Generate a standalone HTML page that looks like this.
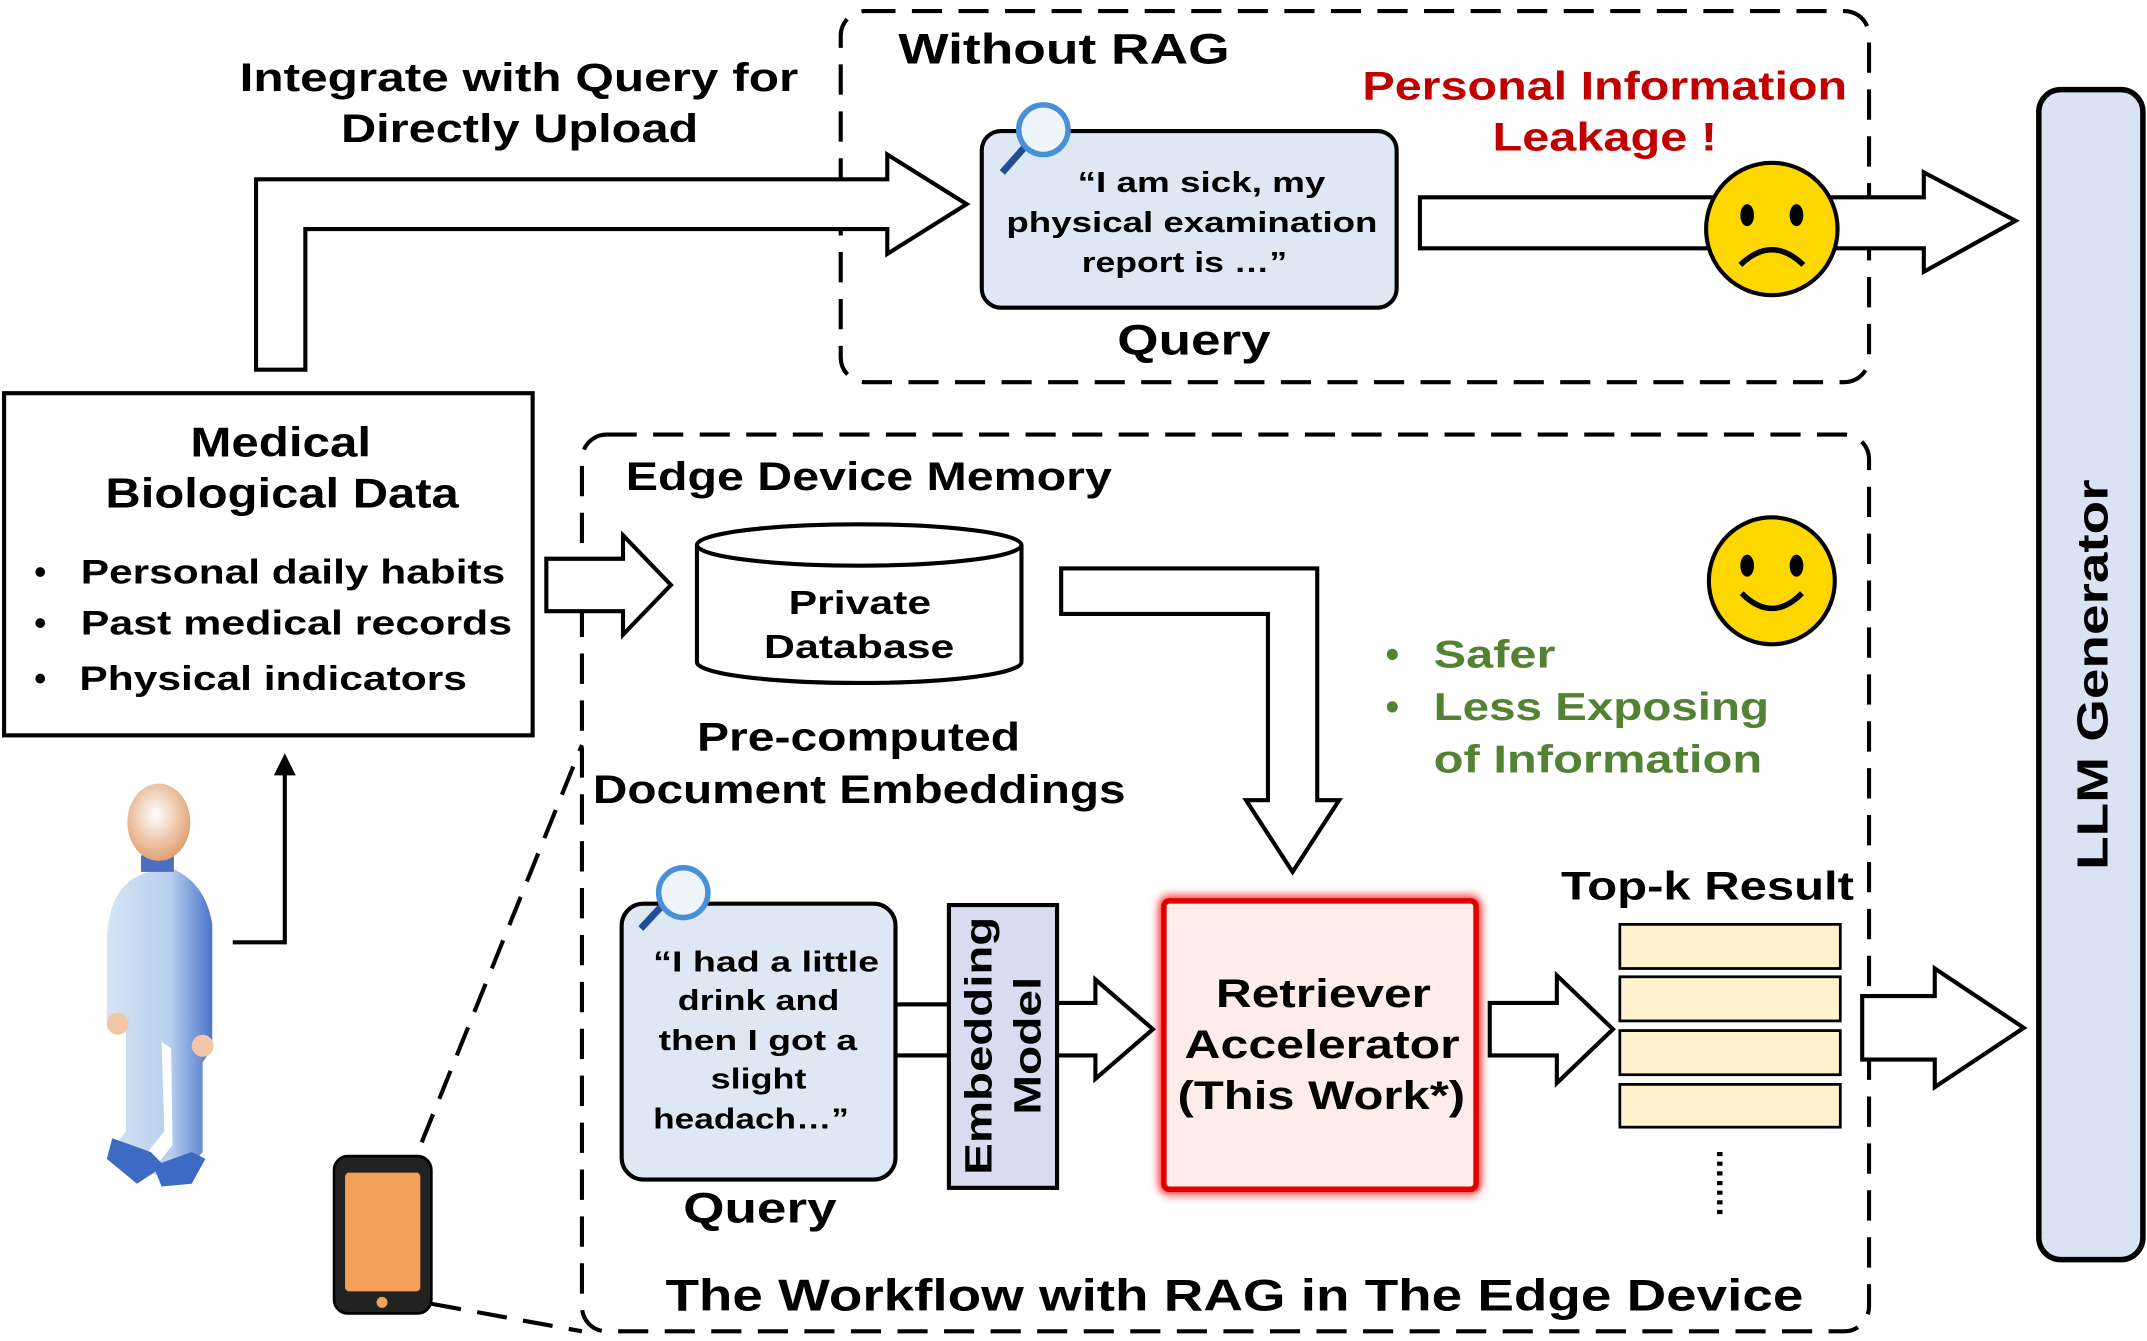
<!DOCTYPE html>
<html><head><meta charset="utf-8"><style>
html,body{margin:0;padding:0;background:#fff;}
svg{display:block;}
text{font-family:"Liberation Sans",sans-serif;font-weight:bold;}
</style></head><body>
<svg width="2147" height="1341" viewBox="0 0 1568 972" preserveAspectRatio="none" xmlns="http://www.w3.org/2000/svg">
<defs>
<radialGradient id="head" cx="0.45" cy="0.4" r="0.6"><stop offset="0" stop-color="#fff"/><stop offset="1" stop-color="#e0a070"/></radialGradient>
<linearGradient id="body" x1="0" x2="1"><stop offset="0" stop-color="#d6e4f5"/><stop offset="0.6" stop-color="#b8cfee"/><stop offset="1" stop-color="#4a74c8"/></linearGradient>
<filter id="glow" x="-10%" y="-10%" width="120%" height="120%"><feGaussianBlur stdDeviation="3"/></filter>
</defs>
<rect x="614" y="8" width="751" height="269" rx="18" fill="none" stroke="#000" stroke-width="3" stroke-dasharray="22,12"/>
<rect x="425" y="315" width="940" height="650" rx="18" fill="none" stroke="#000" stroke-width="3" stroke-dasharray="22,12"/>
<rect x="1489" y="65" width="76" height="848" rx="16" fill="#dae3f3" stroke="#000" stroke-width="4"/>
<text transform="translate(1539,489) rotate(-90)" text-anchor="middle" font-size="32" textLength="283" lengthAdjust="spacingAndGlyphs">LLM Generator</text>
<rect x="3" y="285" width="386" height="248" fill="#fff" stroke="#000" stroke-width="3"/>
<text x="205" y="331" text-anchor="middle" font-size="30" textLength="132" lengthAdjust="spacingAndGlyphs">Medical</text>
<text x="206" y="368" text-anchor="middle" font-size="30" textLength="258" lengthAdjust="spacingAndGlyphs">Biological Data</text>
<g font-size="25">
<text x="25" y="423">•</text><text x="59" y="423" textLength="310" lengthAdjust="spacingAndGlyphs">Personal daily habits</text>
<text x="25" y="460">•</text><text x="59" y="460" textLength="315" lengthAdjust="spacingAndGlyphs">Past medical records</text>
<text x="25" y="500">•</text><text x="58" y="500" textLength="283" lengthAdjust="spacingAndGlyphs">Physical indicators</text>
</g>
<polygon points="187,268 187,130 648,130 648,112 706,148 648,184 648,166 223,166 223,268" fill="#fff" stroke="#000" stroke-width="3"/>
<text x="175" y="66" font-size="29" textLength="408" lengthAdjust="spacingAndGlyphs">Integrate with Query for</text>
<text x="249" y="103" font-size="29" textLength="261" lengthAdjust="spacingAndGlyphs">Directly Upload</text>
<text x="656" y="46" font-size="31" textLength="242" lengthAdjust="spacingAndGlyphs">Without RAG</text>
<rect x="717" y="95" width="303" height="128" rx="14" fill="#dee8f5" stroke="#000" stroke-width="3"/>
<text x="787" y="139" font-size="21" textLength="181" lengthAdjust="spacingAndGlyphs">“I am sick, my</text>
<text x="735" y="168" font-size="21" textLength="271" lengthAdjust="spacingAndGlyphs">physical examination</text>
<text x="790" y="197" font-size="21" textLength="150" lengthAdjust="spacingAndGlyphs">report is …”</text>
<text x="816" y="257" font-size="31" textLength="112" lengthAdjust="spacingAndGlyphs">Query</text>
<line x1="732" y1="125" x2="748" y2="107" stroke="#1f4e96" stroke-width="5"/>
<circle cx="762" cy="94" r="18" fill="#eef5fb" stroke="#4a90d9" stroke-width="4"/>
<polygon points="1037,143 1405,143 1405,125 1472,160 1405,197 1405,180 1037,180" fill="#fff" stroke="#000" stroke-width="3"/>
<text x="995" y="72" font-size="29" fill="#c00000" textLength="354" lengthAdjust="spacingAndGlyphs">Personal Information</text>
<text x="1090" y="109" font-size="29" fill="#c00000" textLength="164" lengthAdjust="spacingAndGlyphs">Leakage !</text>
<circle cx="1294" cy="166" r="48" fill="#ffd700" stroke="#000" stroke-width="3"/>
<ellipse cx="1276" cy="156" rx="5" ry="8"/><ellipse cx="1312" cy="156" rx="5" ry="8"/>
<path d="M1271,192 Q1294,170 1317,192" fill="none" stroke="#000" stroke-width="4"/>
<polygon points="399,405 455,405 455,388 490,424 455,460 455,443 399,443" fill="#fff" stroke="#000" stroke-width="3"/>
<text x="457" y="355" font-size="29" textLength="355" lengthAdjust="spacingAndGlyphs">Edge Device Memory</text>
<path d="M509,395 L509,480 A118,15 0 0 0 746,480 L746,395" fill="#fff" stroke="#000" stroke-width="3"/>
<ellipse cx="627.5" cy="395" rx="118.5" ry="15" fill="#fff" stroke="#000" stroke-width="3"/>
<text x="576" y="445" font-size="24" textLength="104" lengthAdjust="spacingAndGlyphs">Private</text>
<text x="558" y="477" font-size="24" textLength="139" lengthAdjust="spacingAndGlyphs">Database</text>
<text x="509" y="544" font-size="29" textLength="236" lengthAdjust="spacingAndGlyphs">Pre-computed</text>
<text x="433" y="582" font-size="29" textLength="389" lengthAdjust="spacingAndGlyphs">Document Embeddings</text>
<polygon points="775,412 962,412 962,580 978,580 944,632 910,580 926,580 926,445 775,445" fill="#fff" stroke="#000" stroke-width="3"/>
<circle cx="1294" cy="421" r="46" fill="#ffd700" stroke="#000" stroke-width="3"/>
<ellipse cx="1276" cy="410" rx="5" ry="8"/><ellipse cx="1312" cy="410" rx="5" ry="8"/>
<path d="M1272,430 Q1294,452 1316,430" fill="none" stroke="#000" stroke-width="4"/>
<g fill="#548235" font-size="28">
<text x="1012" y="484">•</text><text x="1047" y="484" textLength="89" lengthAdjust="spacingAndGlyphs">Safer</text>
<text x="1012" y="522">•</text><text x="1047" y="522" textLength="245" lengthAdjust="spacingAndGlyphs">Less Exposing</text>
<text x="1047" y="560" textLength="240" lengthAdjust="spacingAndGlyphs">of Information</text>
</g>
<rect x="654" y="728" width="40" height="37" fill="#fff" stroke="#000" stroke-width="3"/>
<rect x="454" y="655" width="200" height="200" rx="16" fill="#dee8f5" stroke="#000" stroke-width="3"/>
<g font-size="21">
<text x="477" y="704" textLength="165" lengthAdjust="spacingAndGlyphs">“I had a little</text>
<text x="495" y="732" textLength="118" lengthAdjust="spacingAndGlyphs">drink and</text>
<text x="481" y="761" textLength="145" lengthAdjust="spacingAndGlyphs">then I got a</text>
<text x="519" y="789" textLength="70" lengthAdjust="spacingAndGlyphs">slight</text>
<text x="477" y="818" textLength="143" lengthAdjust="spacingAndGlyphs">headach…”</text>
</g>
<text x="499" y="886" font-size="31" textLength="112" lengthAdjust="spacingAndGlyphs">Query</text>
<line x1="468" y1="673" x2="484" y2="656" stroke="#1f4e96" stroke-width="5"/>
<circle cx="499" cy="647" r="18" fill="#eef5fb" stroke="#4a90d9" stroke-width="4"/>
<rect x="693" y="656" width="79" height="205" fill="#d9dcf0" stroke="#000" stroke-width="3"/>
<text transform="translate(724,758) rotate(-90)" text-anchor="middle" font-size="28" textLength="187" lengthAdjust="spacingAndGlyphs">Embedding</text>
<text transform="translate(760,758) rotate(-90)" text-anchor="middle" font-size="28" textLength="100" lengthAdjust="spacingAndGlyphs">Model</text>
<polygon points="772,727 800,727 800,710 842,746 800,782 800,765 772,765" fill="#fff" stroke="#000" stroke-width="3"/>
<rect x="850" y="653" width="228" height="209" rx="4" fill="none" stroke="#ff3030" stroke-width="8" filter="url(#glow)"/>
<rect x="850" y="653" width="228" height="209" rx="4" fill="#fdecea" stroke="#e00000" stroke-width="4"/>
<g font-size="29">
<text x="888" y="730" textLength="157" lengthAdjust="spacingAndGlyphs">Retriever</text>
<text x="865" y="767" textLength="201" lengthAdjust="spacingAndGlyphs">Accelerator</text>
<text x="860" y="804" textLength="210" lengthAdjust="spacingAndGlyphs">(This Work*)</text>
</g>
<polygon points="1088,727 1137,727 1137,707 1178,746 1137,785 1137,765 1088,765" fill="#fff" stroke="#000" stroke-width="3"/>
<text x="1140" y="652" font-size="29" textLength="214" lengthAdjust="spacingAndGlyphs">Top-k Result</text>
<g fill="#fff2cc" stroke="#000" stroke-width="2">
<rect x="1183" y="670" width="161" height="32"/>
<rect x="1183" y="708" width="161" height="32"/>
<rect x="1183" y="747" width="161" height="32"/>
<rect x="1183" y="786" width="161" height="31"/>
</g>
<line x1="1256" y1="835" x2="1256" y2="884" stroke="#000" stroke-width="4" stroke-dasharray="3,4"/>
<polygon points="1360,722 1413,722 1413,702 1478,745 1413,788 1413,768 1360,768" fill="#fff" stroke="#000" stroke-width="3"/>
<text x="486" y="950" font-size="32" textLength="831" lengthAdjust="spacingAndGlyphs">The Workflow with RAG in The Edge Device</text>
<line x1="308" y1="828" x2="425" y2="540" stroke="#000" stroke-width="3" stroke-dasharray="22,12"/>
<line x1="315" y1="945" x2="425" y2="965" stroke="#000" stroke-width="3" stroke-dasharray="22,12"/>
<rect x="244" y="838" width="71" height="114" rx="10" fill="#222" stroke="#000" stroke-width="2"/>
<rect x="252" y="850" width="55" height="86" rx="3" fill="#f4a05a"/>
<circle cx="279" cy="944" r="4" fill="#f4a05a"/>
<polyline points="170,683 208,683 208,560" fill="none" stroke="#000" stroke-width="3"/>
<polygon points="200,562 216,562 208,546" fill="#000"/>
<path d="M110,632 Q80,638 78,680 L78,740 L92,745 L92,820 L80,835 L100,845 L120,820 L118,755 L125,760 L126,830 L110,850 L128,858 L148,835 L148,770 L155,760 L155,670 Q150,638 122,628 Z" fill="url(#body)"/>
<path d="M82,825 L78,840 L100,858 L120,845 L110,835Z" fill="#3d6bc4"/>
<path d="M112,845 L118,860 L140,858 L150,840 L140,835Z" fill="#3d6bc4"/>
<rect x="103" y="620" width="24" height="12" fill="#4a6fc2"/>
<ellipse cx="116" cy="596" rx="23" ry="28" fill="url(#head)"/>
<circle cx="86" cy="742" r="8" fill="#f0c8a8"/>
<circle cx="148" cy="758" r="8" fill="#f0c8a8"/>
</svg>
</body></html>
